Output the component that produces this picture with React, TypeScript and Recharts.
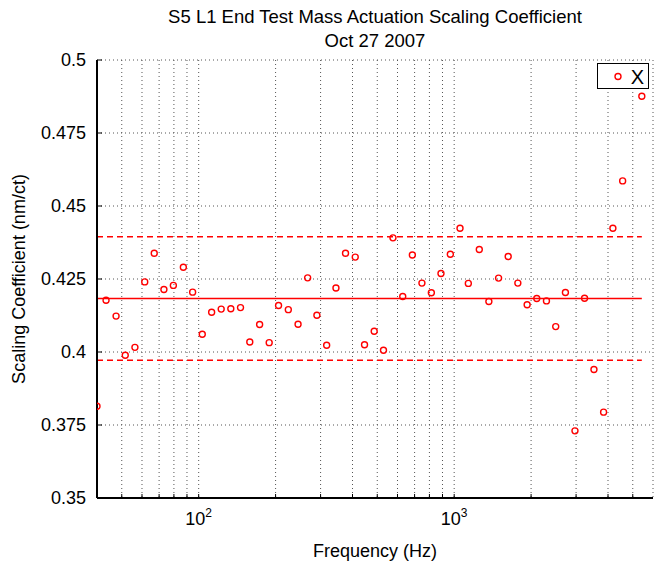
import React from "react";
import {
  CartesianGrid,
  ComposedChart,
  Legend,
  ReferenceLine,
  Scatter,
  XAxis,
  YAxis,
} from "recharts";

// frequencies (Hz) of each measurement
const FREQS = [
  40, 43.4, 47.5, 51.6, 56.3, 61.5, 67, 73.1, 79.6, 87.1,
  94.7, 103.3, 112.4, 122.5, 133.6, 145.8, 158.5, 173.2, 188.8, 205.4,
  224.3, 244.9, 267, 290.2, 316.9, 344.6, 375.6, 410, 445.8, 486.4,
  528.8, 576, 629, 686, 747.8, 814, 887.8, 966, 1054, 1136,
  1254, 1367, 1492, 1627, 1775, 1930, 2105, 2297, 2497, 2725,
  2970, 3238, 3524, 3844, 4180, 4564, 5425,
];

// scaling coefficient (nm/ct)
const COEFFS = [
  0.3814, 0.4177, 0.4123, 0.3989, 0.4016, 0.424, 0.4338, 0.4214, 0.4228, 0.429,
  0.4205, 0.4061, 0.4136, 0.4147, 0.4148, 0.4152, 0.4034, 0.4094, 0.4032, 0.4159,
  0.4145, 0.4095, 0.4254, 0.4126, 0.4023, 0.4219, 0.4338, 0.4325, 0.4025, 0.4071,
  0.4006, 0.4391, 0.419, 0.4332, 0.4236, 0.4203, 0.4269, 0.4335, 0.4424, 0.4235,
  0.4351, 0.4173, 0.4253, 0.4327, 0.4236, 0.4162, 0.4183, 0.4175, 0.4087, 0.4204,
  0.373, 0.4184, 0.394, 0.3794, 0.4424, 0.4586, 0.4876,
];

const MEAN = 0.4183;
const UPPER = 0.4395;
const LOWER = 0.3972;
const LINE_START = 40;
const LINE_END = 5425;

const X_TICKS = [
  50, 60, 70, 80, 90, 100, 200, 300, 400, 500, 600, 700, 800, 900, 1000,
  2000, 3000, 4000, 5000,
];
const X_LABELED = [100, 1000];
const Y_TICKS = [0.35, 0.375, 0.4, 0.425, 0.45, 0.475, 0.5];

const data = FREQS.map((f, i) => ({ f, v: COEFFS[i] }));

const FONT = "'Liberation Sans', Arial, Helvetica, sans-serif";
const RED = "#ff0000";

function OpenCircle(props: any) {
  const { cx, cy } = props;
  if (cx == null || cy == null) return null;
  return <circle cx={cx} cy={cy} r={3} fill="none" stroke={RED} strokeWidth={1.4} />;
}

function PowerTick(props: any) {
  const { x, y, payload } = props;
  if (!X_LABELED.includes(payload.value)) return null;
  const exp = Math.round(Math.log10(payload.value));
  return (
    <text x={x} y={y + 19} textAnchor="middle" fontSize={18} fill="#000" fontFamily={FONT}>
      <tspan>10</tspan>
      <tspan dy={-8} fontSize={12}>
        {exp}
      </tspan>
    </text>
  );
}

function LegendBox() {
  return (
    <div
      style={{
        width: 50,
        height: 24,
        border: "1.5px solid #000",
        background: "#fff",
        position: "relative",
        fontFamily: FONT,
      }}
    >
      <svg width={50} height={24} style={{ position: "absolute", left: 0, top: 0 }}>
        <circle cx={20} cy={12.5} r={3} fill="none" stroke={RED} strokeWidth={1.4} />
        <text x={39.5} y={19.5} textAnchor="middle" fontSize={20} fontFamily={FONT}>
          X
        </text>
      </svg>
    </div>
  );
}

const frame = { stroke: "#000", strokeWidth: 2 };

export default function App() {
  return (
    <div style={{ position: "absolute", left: 0, top: 0, width: 658, height: 564, background: "#fff" }}>
      <ComposedChart
        width={658}
        height={564}
        data={data}
        margin={{ top: 60, right: 5, bottom: 26, left: 0 }}
        style={{ fontFamily: FONT }}
      >
        <CartesianGrid stroke="#555" strokeDasharray="1 3" strokeWidth={1} />
        <XAxis
          dataKey="f"
          type="number"
          scale="log"
          domain={[40, 6000]}
          allowDataOverflow
          ticks={X_TICKS}
          interval={0}
          tick={<PowerTick />}
          tickSize={-4}
          tickMargin={12}
          height={40}
          stroke="#000"
          axisLine={frame}
          tickLine={{ stroke: "#000" }}
        />
        <XAxis
          xAxisId="top"
          orientation="top"
          dataKey="f"
          type="number"
          scale="log"
          domain={[40, 6000]}
          allowDataOverflow
          ticks={X_TICKS}
          interval={0}
          tick={false}
          tickSize={-4}
          height={0}
          stroke="#000"
          axisLine={frame}
          tickLine={{ stroke: "#000" }}
        />
        <YAxis
          type="number"
          domain={[0.35, 0.5]}
          ticks={Y_TICKS}
          interval={0}
          width={97}
          tickSize={-5}
          tickMargin={16}
          stroke="#000"
          tick={{ fontSize: 18, fill: "#000", fontFamily: FONT }}
          tickFormatter={(v: number) => String(v)}
          axisLine={frame}
          tickLine={{ stroke: "#000" }}
        />
        <YAxis
          yAxisId="right"
          orientation="right"
          type="number"
          domain={[0.35, 0.5]}
          ticks={Y_TICKS}
          interval={0}
          width={0}
          tickSize={-5}
          tick={false}
          stroke="#000"
          axisLine={frame}
          tickLine={{ stroke: "#000" }}
        />
        <ReferenceLine
          segment={[
            { x: LINE_START, y: UPPER },
            { x: LINE_END, y: UPPER },
          ]}
          stroke={RED}
          strokeWidth={1.5}
          strokeDasharray="6 4"
        />
        <ReferenceLine
          segment={[
            { x: LINE_START, y: MEAN },
            { x: LINE_END, y: MEAN },
          ]}
          stroke={RED}
          strokeWidth={1.5}
        />
        <ReferenceLine
          segment={[
            { x: LINE_START, y: LOWER },
            { x: LINE_END, y: LOWER },
          ]}
          stroke={RED}
          strokeWidth={1.5}
          strokeDasharray="6 4"
        />
        <Scatter
          name="X"
          dataKey="v"
          fill="none"
          stroke={RED}
          shape={<OpenCircle />}
          isAnimationActive={false}
        />
        <Legend
          layout="vertical"
          align="center"
          verticalAlign="middle"
          content={() => <LegendBox />}
          wrapperStyle={{ position: "absolute", left: 597, top: 63, width: 53, height: 27 }}
        />
      </ComposedChart>
      <svg
        width={658}
        height={564}
        style={{ position: "absolute", left: 0, top: 0, pointerEvents: "none" }}
      >
        <text x={375} y={23} textAnchor="middle" fontSize={18.5} fontFamily={FONT}>
          S5 L1 End Test Mass Actuation Scaling Coefficient
        </text>
        <text x={375} y={47} textAnchor="middle" fontSize={18.5} fontFamily={FONT}>
          Oct 27 2007
        </text>
        <text x={375} y={557} textAnchor="middle" fontSize={18} fontFamily={FONT}>
          Frequency (Hz)
        </text>
        <text
          x={0}
          y={0}
          transform="translate(25 279) rotate(-90)"
          textAnchor="middle"
          fontSize={18}
          fontFamily={FONT}
        >
          Scaling Coefficient (nm/ct)
        </text>
      </svg>
    </div>
  );
}
